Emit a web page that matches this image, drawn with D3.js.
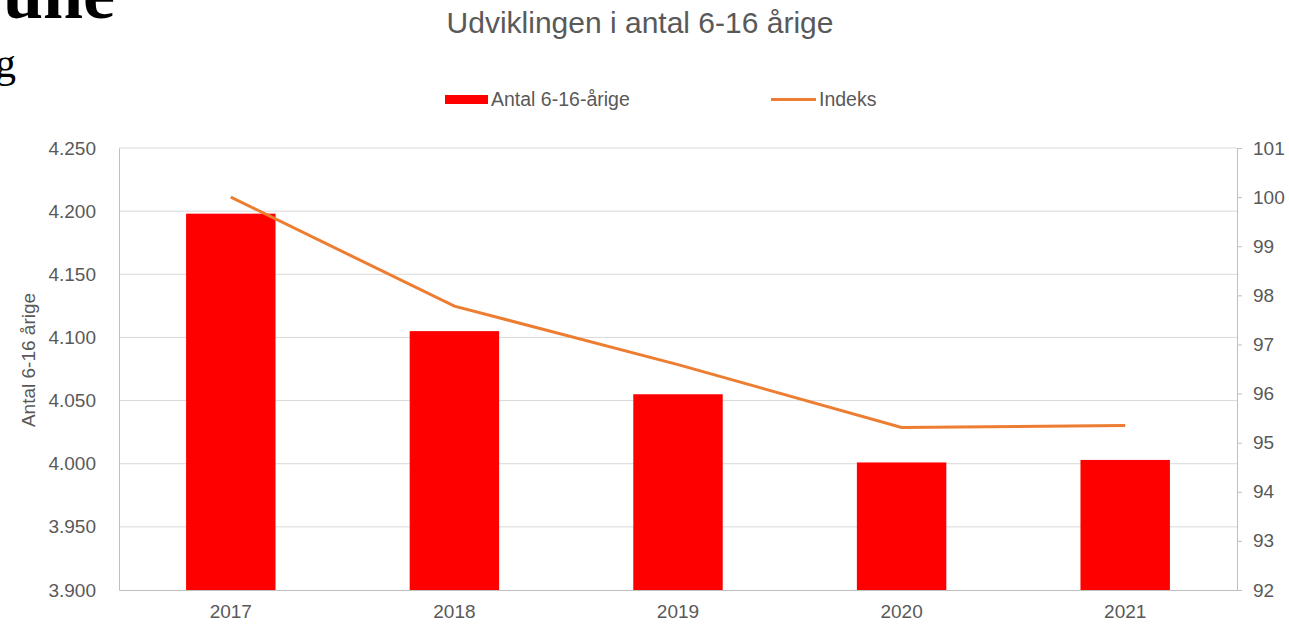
<!DOCTYPE html>
<html lang="da">
<head>
<meta charset="utf-8">
<title>Udviklingen i antal 6-16 årige</title>
<style>
  body { margin: 0; background: #fff; }
  svg { display: block; font-family: "Liberation Sans", Arial, sans-serif; }
  .axis text { fill: #595959; font-size: 19px; }
  .axis path, .axis line { stroke: #bfbfbf; }
  .grid line { stroke: #d9d9d9; }
</style>
</head>
<body>
<script src="https://d3js.org/d3.v7.min.js"></script>
<script>
// data
var years = ["2017", "2018", "2019", "2020", "2021"];
var antal = [4198, 4105, 4055, 4001, 4003];
var indeks = [100.0, 97.78, 96.59, 95.31, 95.35];
var leftTicks = [3900, 3950, 4000, 4050, 4100, 4150, 4200, 4250];
var rightTicks = [92, 93, 94, 95, 96, 97, 98, 99, 100, 101];

var W = 1289, H = 624;
var margin = { top: 148, right: 52, bottom: 34, left: 119 };
var width = W - margin.left - margin.right,
    height = H - margin.top - margin.bottom;

var svg = d3.select("body").append("svg")
    .attr("width", W)
    .attr("height", H);

// leftover heading text from the page behind the chart
svg.append("text")
    .attr("x", 115).attr("y", 18)
    .attr("text-anchor", "end")
    .style("font-family", "'Liberation Serif', serif")
    .style("font-weight", "bold")
    .style("font-size", "72px")
    .text("une");
svg.append("text")
    .attr("x", 16).attr("y", 77)
    .attr("text-anchor", "end")
    .style("font-family", "'Liberation Serif', serif")
    .style("font-size", "42px")
    .text("g");

svg.append("text")
    .attr("x", 640).attr("y", 33)
    .attr("text-anchor", "middle")
    .style("fill", "#595959")
    .style("font-size", "30px")
    .text("Udviklingen i antal 6-16 årige");

var g = svg.append("g")
    .attr("transform", "translate(" + margin.left + "," + margin.top + ")");

var x = d3.scaleBand().domain(years).range([0, width]).paddingInner(0.6).paddingOuter(0.3);
var y = d3.scaleLinear().domain([3900, 4250]).range([height, 0]);
var y2 = d3.scaleLinear().domain([92, 101]).range([height, 0]);

// gridlines
g.append("g").attr("class", "grid")
  .selectAll("line")
  .data(leftTicks.slice(1))
  .enter().append("line")
    .attr("x1", 0).attr("x2", width)
    .attr("y1", function(d) { return y(d); })
    .attr("y2", function(d) { return y(d); });

// bars
g.selectAll(".bar")
  .data(years)
  .enter().append("rect")
    .attr("class", "bar")
    .attr("x", function(d) { return x(d); })
    .attr("width", x.bandwidth())
    .attr("y", function(d, i) { return y(antal[i]); })
    .attr("height", function(d, i) { return height - y(antal[i]); })
    .style("fill", "#ff0000");

// index line
var line = d3.line()
    .x(function(d, i) { return x(years[i]) + x.bandwidth() / 2; })
    .y(function(d) { return y2(d); });

g.append("path")
    .datum(indeks)
    .attr("d", line)
    .style("fill", "none")
    .style("stroke", "#ed7d31")
    .style("stroke-width", 3);

// axes
var yAxis = d3.axisLeft(y).tickValues(leftTicks)
    .tickFormat(function(d) { return d3.format(".3f")(d / 1000); })
    .tickSize(0).tickPadding(23);
g.append("g").attr("class", "axis").call(yAxis);

var y2Axis = d3.axisRight(y2).tickValues(rightTicks).tickSize(5).tickPadding(11);
g.append("g").attr("class", "axis")
    .attr("transform", "translate(" + width + ",0)")
    .call(y2Axis);

var xAxis = d3.axisBottom(x).tickSize(0).tickPadding(15);
g.append("g").attr("class", "axis")
    .attr("transform", "translate(0," + height + ")")
    .call(xAxis);

g.selectAll(".axis .domain").style("stroke", "#bfbfbf");

svg.append("text")
    .attr("transform", "translate(35,360) rotate(-90)")
    .attr("text-anchor", "middle")
    .style("fill", "#595959")
    .style("font-size", "19px")
    .text("Antal 6-16 årige");

// legend
var legend = svg.append("g").style("font-size", "19.5px");
legend.append("rect")
    .attr("x", 445).attr("y", 95).attr("width", 43).attr("height", 9)
    .style("fill", "#ff0000");
legend.append("text")
    .attr("x", 491).attr("y", 106)
    .style("fill", "#595959")
    .text("Antal 6-16-årige");
legend.append("line")
    .attr("x1", 771).attr("x2", 816).attr("y1", 99.5).attr("y2", 99.5)
    .style("stroke", "#ed7d31").style("stroke-width", 3);
legend.append("text")
    .attr("x", 819).attr("y", 106)
    .style("fill", "#595959")
    .text("Indeks");
</script>
</body>
</html>
